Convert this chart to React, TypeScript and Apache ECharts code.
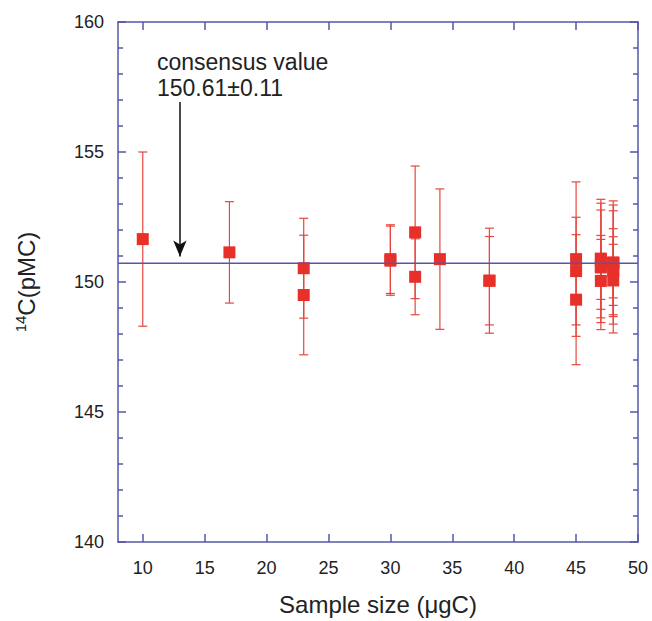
import React, { useEffect, useRef } from 'react';
import * as echarts from 'echarts';

// Sample size (µgC) of each measurement
const sampleSizes = [
  10, 17, 23, 23, 30, 30, 32, 32, 34, 38, 38,
  45, 45, 45,
  47, 47, 47, 47, 47,
  48, 48, 48, 48, 48, 48,
];
// 14C (pMC) measured values
const pmcValues = [
  151.65, 151.14, 150.53, 149.5, 150.88, 150.82, 151.91, 150.2, 150.88, 150.05, 150.05,
  150.88, 150.42, 149.32,
  150.9, 150.6, 150.86, 150.56, 150.04,
  150.75, 150.5, 150.74, 150.72, 150.42, 150.06,
];
// 1-sigma uncertainties (pMC)
const pmcErrors = [
  3.35, 1.95, 1.92, 2.3, 1.32, 1.33, 2.55, 1.46, 2.7, 2.02, 1.7,
  2.97, 2.07, 2.5,
  2.28, 2.43, 1.91, 1.23, 1.6,
  2.37, 2.46, 2.0, 1.33, 1.32, 1.39,
];

const xTickValues = [10, 15, 20, 25, 30, 35, 40, 45, 50];
const xMin = 8;
const xMax = 50;
const yMin = 140;
const yMax = 160;
const yInterval = 5;

const consensusLevel = 150.72;
const consensusText = ['consensus value', '150.61±0.11'];
const arrowX = 13;
const arrowFromY = 156.92;
const arrowToY = 150.98;

const FONT = '"Liberation Sans", Arial, Helvetica, sans-serif';
const AXIS_COLOR = '#5656a8';
const TEXT_COLOR = '#222222';
const RED = '#e8302a';
const BAR_RED = '#e5473d';

export default function App() {
  const ref = useRef<HTMLDivElement>(null);

  useEffect(() => {
    if (!ref.current) return;
    const chart = echarts.init(ref.current, undefined, { renderer: 'svg' });

    const points = sampleSizes.map((x, i) => [x, pmcValues[i], pmcErrors[i]]);

    const axisLineStyle = { color: AXIS_COLOR, width: 1.5 };

    const option: any = {
      animation: false,
      backgroundColor: '#ffffff',
      textStyle: { fontFamily: FONT },
      grid: { left: 118, right: 14, top: 22, bottom: 79, containLabel: false },
      xAxis: [
        {
          type: 'value',
          position: 'bottom',
          min: xMin,
          max: xMax,
          axisLine: { show: true, onZero: false, lineStyle: axisLineStyle },
          axisTick: { show: true, inside: true, length: 8, customValues: xTickValues, lineStyle: { color: AXIS_COLOR, width: 1.5 } },
          axisLabel: { show: true, customValues: xTickValues, fontSize: 18, color: TEXT_COLOR, margin: 17, fontFamily: FONT },
          splitLine: { show: false },
          name: 'Sample size (μgC)',
          nameLocation: 'middle',
          nameGap: 50,
          nameTextStyle: { fontSize: 24, color: TEXT_COLOR, fontFamily: FONT },
        },
        {
          type: 'value',
          position: 'top',
          min: xMin,
          max: xMax,
          axisLine: { show: true, onZero: false, lineStyle: axisLineStyle },
          axisTick: { show: true, inside: true, length: 8, customValues: xTickValues, lineStyle: { color: AXIS_COLOR, width: 1.5 } },
          axisLabel: { show: false },
          splitLine: { show: false },
        },
      ],
      yAxis: [
        {
          type: 'value',
          position: 'left',
          min: yMin,
          max: yMax,
          interval: yInterval,
          axisLine: { show: true, onZero: false, lineStyle: axisLineStyle },
          axisTick: { show: true, inside: true, length: 8, lineStyle: { color: AXIS_COLOR, width: 1.5 } },
          minorTick: { show: true, splitNumber: 5, length: 5, lineStyle: { color: AXIS_COLOR, width: 1.5 } },
          axisLabel: { show: true, fontSize: 18, color: TEXT_COLOR, margin: 14, fontFamily: FONT },
          splitLine: { show: false },
          name: '{sup|14}{main|C(pMC)}',
          nameLocation: 'middle',
          nameGap: 79,
          nameRotate: 90,
          nameTextStyle: {
            fontFamily: FONT,
            color: TEXT_COLOR,
            rich: {
              sup: { fontSize: 15, color: TEXT_COLOR, fontFamily: FONT, verticalAlign: 'top', lineHeight: 26 },
              main: { fontSize: 24, color: TEXT_COLOR, fontFamily: FONT, lineHeight: 26 },
            },
          },
        },
        {
          type: 'value',
          position: 'right',
          min: yMin,
          max: yMax,
          interval: yInterval,
          axisLine: { show: true, onZero: false, lineStyle: axisLineStyle },
          axisTick: { show: true, inside: true, length: 8, lineStyle: { color: AXIS_COLOR, width: 1.5 } },
          minorTick: { show: true, splitNumber: 5, length: 5, lineStyle: { color: AXIS_COLOR, width: 1.5 } },
          axisLabel: { show: false },
          splitLine: { show: false },
        },
      ],
      graphic: [
        {
          type: 'text',
          left: 157,
          top: 49,
          z: 10,
          style: {
            text: consensusText.join('\n'),
            fontSize: 23,
            lineHeight: 26,
            fontFamily: FONT,
            fill: TEXT_COLOR,
          },
        },
      ],
      series: [
        {
          type: 'custom',
          name: 'errors',
          xAxisIndex: 0,
          yAxisIndex: 0,
          z: 2,
          data: points,
          encode: { x: 0, y: 1 },
          renderItem: (params: any, api: any) => {
            const x = api.value(0);
            const y = api.value(1);
            const e = api.value(2);
            const hi = api.coord([x, y + e]);
            const lo = api.coord([x, y - e]);
            const w = 4.5;
            const style = { stroke: BAR_RED, lineWidth: 1.2 };
            return {
              type: 'group',
              children: [
                { type: 'line', shape: { x1: hi[0], y1: hi[1], x2: lo[0], y2: lo[1] }, style },
                { type: 'line', shape: { x1: hi[0] - w, y1: hi[1], x2: hi[0] + w, y2: hi[1] }, style },
                { type: 'line', shape: { x1: lo[0] - w, y1: lo[1], x2: lo[0] + w, y2: lo[1] }, style },
              ],
            };
          },
        },
        {
          type: 'scatter',
          name: 'values',
          xAxisIndex: 0,
          yAxisIndex: 0,
          z: 3,
          symbol: 'rect',
          symbolSize: 12,
          itemStyle: { color: RED, opacity: 1 },
          data: points.map((p) => [p[0], p[1]]),
        },
        {
          type: 'line',
          name: 'consensus',
          xAxisIndex: 0,
          yAxisIndex: 0,
          z: 4,
          showSymbol: false,
          symbol: 'none',
          lineStyle: { color: AXIS_COLOR, width: 1.5 },
          data: [
            [xMin, consensusLevel],
            [xMax, consensusLevel],
          ],
          markLine: {
            silent: true,
            symbol: ['none', 'arrow'],
            symbolSize: [10, 16],
            label: { show: false },
            lineStyle: { color: '#111111', width: 1.5, type: 'solid' },
            data: [[{ coord: [arrowX, arrowFromY] }, { coord: [arrowX, arrowToY] }]],
          },
        },
      ],
    };

    chart.setOption(option);
    return () => {
      chart.dispose();
    };
  }, []);

  return (
    <div
      ref={ref}
      style={{ position: 'fixed', left: 0, top: 0, width: 652, height: 621, background: '#fff' }}
    />
  );
}
